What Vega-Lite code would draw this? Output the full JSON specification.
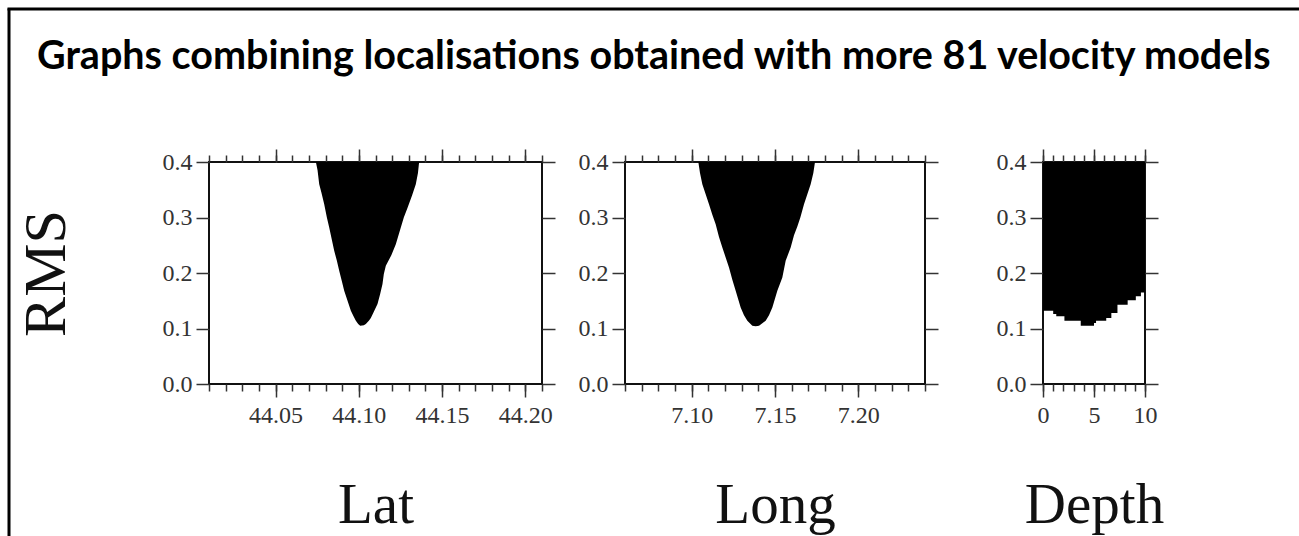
{
  "$schema": "https://vega.github.io/schema/vega-lite/v6.json",
  "autosize": "none",
  "padding": {"left": 9, "top": 9, "right": 1290, "bottom": 527},
  "background": "white",
  "title": {
    "text": "Graphs combining localisations obtained with more 81 velocity models",
    "anchor": "start",
    "frame": "group",
    "dx": 28,
    "offset": 0,
    "dy": 70,
    "font": "Lato",
    "fontSize": 39.5,
    "fontWeight": "bold",
    "color": "black"
  },
  "datasets": {
    "lat": [
      {"lat": 44.0742, "rms": 0.400}, {"lat": 44.0752, "rms": 0.385}, {"lat": 44.0762, "rms": 0.360},
      {"lat": 44.0775, "rms": 0.345}, {"lat": 44.0792, "rms": 0.324}, {"lat": 44.0808, "rms": 0.300},
      {"lat": 44.0822, "rms": 0.282}, {"lat": 44.0852, "rms": 0.240}, {"lat": 44.0868, "rms": 0.222},
      {"lat": 44.0882, "rms": 0.204}, {"lat": 44.0898, "rms": 0.185}, {"lat": 44.0912, "rms": 0.168},
      {"lat": 44.0932, "rms": 0.150}, {"lat": 44.0952, "rms": 0.132}, {"lat": 44.0968, "rms": 0.122},
      {"lat": 44.0982, "rms": 0.114}, {"lat": 44.0996, "rms": 0.108}, {"lat": 44.1008, "rms": 0.105},
      {"lat": 44.1030, "rms": 0.106}, {"lat": 44.1042, "rms": 0.108}, {"lat": 44.1060, "rms": 0.114},
      {"lat": 44.1072, "rms": 0.119}, {"lat": 44.1090, "rms": 0.130}, {"lat": 44.1112, "rms": 0.144},
      {"lat": 44.1128, "rms": 0.162}, {"lat": 44.1142, "rms": 0.180}, {"lat": 44.1150, "rms": 0.198},
      {"lat": 44.1162, "rms": 0.213}, {"lat": 44.1195, "rms": 0.232}, {"lat": 44.1222, "rms": 0.252},
      {"lat": 44.1252, "rms": 0.282}, {"lat": 44.1270, "rms": 0.300}, {"lat": 44.1292, "rms": 0.317},
      {"lat": 44.1320, "rms": 0.340}, {"lat": 44.1342, "rms": 0.360}, {"lat": 44.1355, "rms": 0.380},
      {"lat": 44.1362, "rms": 0.400}
    ],
    "long": [
      {"long": 7.1040, "rms": 0.400}, {"long": 7.1050, "rms": 0.380}, {"long": 7.1064, "rms": 0.360},
      {"long": 7.1084, "rms": 0.342}, {"long": 7.1104, "rms": 0.324}, {"long": 7.1124, "rms": 0.305},
      {"long": 7.1144, "rms": 0.288}, {"long": 7.1164, "rms": 0.265}, {"long": 7.1184, "rms": 0.246},
      {"long": 7.1204, "rms": 0.228}, {"long": 7.1224, "rms": 0.210}, {"long": 7.1244, "rms": 0.188},
      {"long": 7.1264, "rms": 0.168}, {"long": 7.1294, "rms": 0.138}, {"long": 7.1314, "rms": 0.124},
      {"long": 7.1334, "rms": 0.114}, {"long": 7.1364, "rms": 0.105}, {"long": 7.1384, "rms": 0.104},
      {"long": 7.1404, "rms": 0.105}, {"long": 7.1444, "rms": 0.114}, {"long": 7.1464, "rms": 0.124},
      {"long": 7.1484, "rms": 0.138}, {"long": 7.1514, "rms": 0.168}, {"long": 7.1544, "rms": 0.192},
      {"long": 7.1564, "rms": 0.222}, {"long": 7.1594, "rms": 0.246}, {"long": 7.1614, "rms": 0.268},
      {"long": 7.1634, "rms": 0.284}, {"long": 7.1652, "rms": 0.300}, {"long": 7.1674, "rms": 0.324},
      {"long": 7.1694, "rms": 0.342}, {"long": 7.1714, "rms": 0.360}, {"long": 7.1730, "rms": 0.380},
      {"long": 7.1740, "rms": 0.400}
    ],
    "depth": [
      {"depth": 0.0, "rms": 0.132}, {"depth": 1.0, "rms": 0.126}, {"depth": 1.3, "rms": 0.122},
      {"depth": 2.1, "rms": 0.114}, {"depth": 3.7, "rms": 0.105}, {"depth": 5.0, "rms": 0.110},
      {"depth": 5.2, "rms": 0.114}, {"depth": 6.2, "rms": 0.119}, {"depth": 6.7, "rms": 0.128},
      {"depth": 7.3, "rms": 0.143}, {"depth": 8.3, "rms": 0.151}, {"depth": 9.1, "rms": 0.158},
      {"depth": 9.6, "rms": 0.165}, {"depth": 10.0, "rms": 0.172}
    ]
  },
  "bounds": "flush",
  "spacing": 0,
  "vconcat": [
    {
      "width": 1289,
      "height": 0.01,
      "data": {"values": []},
      "mark": {"type": "point", "opacity": 0},
      "encoding": {},
      "view": {"stroke": "black", "strokeWidth": 3, "fill": null}
    },
    {
      "bounds": "flush",
      "spacing": 0,
      "center": true,
      "hconcat": [
        {
          "width": 0.01,
          "height": 526,
          "data": {"values": []},
          "mark": {"type": "point", "opacity": 0},
          "encoding": {},
          "view": {"stroke": "black", "strokeWidth": 3, "fill": null}
        },
        {
          "width": 199,
          "height": 222,
          "data": {"values": []},
          "mark": {"type": "point", "opacity": 0},
          "encoding": {},
          "view": {"stroke": null, "fill": null}
        },
        {
          "width": 333,
          "height": 222,
          "view": {"stroke": "#111", "strokeWidth": 2},
          "data": {"name": "lat"},
          "layer": [
            {
              "mark": {"type": "area", "color": "black"},
              "encoding": {
                "x": {"field": "lat", "type": "quantitative", "scale": {"domain": [44.01, 44.21], "nice": false, "zero": false},
                      "axis": {"orient": "bottom", "values": [44.05, 44.1, 44.15, 44.2], "format": ".2f", "tickSize": 13, "title": "Lat", "titlePadding": 50}},
                "y": {"field": "rms", "type": "quantitative", "scale": {"domain": [0, 0.4], "nice": false},
                      "axis": {"orient": "left", "values": [0, 0.1, 0.2, 0.3, 0.4], "format": ".1f", "tickSize": 13, "labelPadding": 4, "title": "RMS", "titleFontSize": 60, "titlePadding": 85}},
                "y2": {"datum": 0.4}
              }
            },
            {
              "mark": {"type": "area", "opacity": 0},
              "encoding": {
                "x": {"field": "lat", "type": "quantitative",
                      "axis": {"orient": "bottom", "values": [44.01, 44.02, 44.03, 44.04, 44.05, 44.06, 44.07, 44.08, 44.09, 44.1, 44.11, 44.12, 44.13, 44.14, 44.15, 44.16, 44.17, 44.18, 44.19, 44.2, 44.21], "labels": false, "tickSize": 7, "title": null}},
                "y": {"field": "rms", "type": "quantitative",
                      "axis": {"orient": "right", "values": [0, 0.1, 0.2, 0.3, 0.4], "labels": false, "tickSize": 13, "title": null}},
                "y2": {"datum": 0.4}
              }
            },
            {
              "mark": {"type": "area", "opacity": 0},
              "encoding": {
                "x": {"field": "lat", "type": "quantitative",
                      "axis": {"orient": "top", "values": [44.05, 44.1, 44.15, 44.2], "labels": false, "tickSize": 13, "title": null}},
                "y": {"field": "rms", "type": "quantitative", "axis": null},
                "y2": {"datum": 0.4}
              }
            },
            {
              "mark": {"type": "area", "opacity": 0},
              "encoding": {
                "x": {"field": "lat", "type": "quantitative",
                      "axis": {"orient": "top", "values": [44.01, 44.02, 44.03, 44.04, 44.05, 44.06, 44.07, 44.08, 44.09, 44.1, 44.11, 44.12, 44.13, 44.14, 44.15, 44.16, 44.17, 44.18, 44.19, 44.2, 44.21], "labels": false, "tickSize": 7, "title": null}},
                "y": {"field": "rms", "type": "quantitative", "axis": null},
                "y2": {"datum": 0.4}
              }
            }
          ],
          "resolve": {"axis": {"x": "independent", "y": "independent"}}
        },
        {
          "width": 83,
          "height": 222,
          "data": {"values": []},
          "mark": {"type": "point", "opacity": 0},
          "encoding": {},
          "view": {"stroke": null, "fill": null}
        },
        {
          "width": 300,
          "height": 222,
          "view": {"stroke": "#111", "strokeWidth": 2},
          "data": {"name": "long"},
          "layer": [
            {
              "mark": {"type": "area", "color": "black"},
              "encoding": {
                "x": {"field": "long", "type": "quantitative", "scale": {"domain": [7.06, 7.24], "nice": false, "zero": false},
                      "axis": {"orient": "bottom", "values": [7.1, 7.15, 7.2], "format": ".2f", "tickSize": 13, "title": "Long", "titlePadding": 50}},
                "y": {"field": "rms", "type": "quantitative", "scale": {"domain": [0, 0.4], "nice": false},
                      "axis": {"orient": "left", "values": [0, 0.1, 0.2, 0.3, 0.4], "format": ".1f", "tickSize": 13, "labelPadding": 4, "title": null}},
                "y2": {"datum": 0.4}
              }
            },
            {
              "mark": {"type": "area", "opacity": 0},
              "encoding": {
                "x": {"field": "long", "type": "quantitative",
                      "axis": {"orient": "bottom", "values": [7.06, 7.07, 7.08, 7.09, 7.1, 7.11, 7.12, 7.13, 7.14, 7.15, 7.16, 7.17, 7.18, 7.19, 7.2, 7.21, 7.22, 7.23, 7.24], "labels": false, "tickSize": 7, "title": null}},
                "y": {"field": "rms", "type": "quantitative",
                      "axis": {"orient": "right", "values": [0, 0.1, 0.2, 0.3, 0.4], "labels": false, "tickSize": 13, "title": null}},
                "y2": {"datum": 0.4}
              }
            },
            {
              "mark": {"type": "area", "opacity": 0},
              "encoding": {
                "x": {"field": "long", "type": "quantitative",
                      "axis": {"orient": "top", "values": [7.1, 7.15, 7.2], "labels": false, "tickSize": 13, "title": null}},
                "y": {"field": "rms", "type": "quantitative", "axis": null},
                "y2": {"datum": 0.4}
              }
            },
            {
              "mark": {"type": "area", "opacity": 0},
              "encoding": {
                "x": {"field": "long", "type": "quantitative",
                      "axis": {"orient": "top", "values": [7.06, 7.07, 7.08, 7.09, 7.1, 7.11, 7.12, 7.13, 7.14, 7.15, 7.16, 7.17, 7.18, 7.19, 7.2, 7.21, 7.22, 7.23, 7.24], "labels": false, "tickSize": 7, "title": null}},
                "y": {"field": "rms", "type": "quantitative", "axis": null},
                "y2": {"datum": 0.4}
              }
            }
          ],
          "resolve": {"axis": {"x": "independent", "y": "independent"}}
        },
        {
          "width": 118,
          "height": 222,
          "data": {"values": []},
          "mark": {"type": "point", "opacity": 0},
          "encoding": {},
          "view": {"stroke": null, "fill": null}
        },
        {
          "width": 102,
          "height": 222,
          "view": {"stroke": "#111", "strokeWidth": 2},
          "data": {"name": "depth"},
          "layer": [
            {
              "mark": {"type": "area", "color": "black", "interpolate": "step-after"},
              "encoding": {
                "x": {"field": "depth", "type": "quantitative", "scale": {"domain": [0, 10], "nice": false},
                      "axis": {"orient": "bottom", "values": [0, 5, 10], "format": "d", "tickSize": 13, "title": "Depth", "titlePadding": 50}},
                "y": {"field": "rms", "type": "quantitative", "scale": {"domain": [0, 0.4], "nice": false},
                      "axis": {"orient": "left", "values": [0, 0.1, 0.2, 0.3, 0.4], "format": ".1f", "tickSize": 13, "labelPadding": 4, "title": null}},
                "y2": {"datum": 0.4}
              }
            },
            {
              "mark": {"type": "area", "opacity": 0, "interpolate": "step-after"},
              "encoding": {
                "x": {"field": "depth", "type": "quantitative",
                      "axis": {"orient": "bottom", "values": [0, 1, 2, 3, 4, 5, 6, 7, 8, 9, 10], "labels": false, "tickSize": 7, "title": null}},
                "y": {"field": "rms", "type": "quantitative",
                      "axis": {"orient": "right", "values": [0, 0.1, 0.2, 0.3, 0.4], "labels": false, "tickSize": 13, "title": null}},
                "y2": {"datum": 0.4}
              }
            },
            {
              "mark": {"type": "area", "opacity": 0, "interpolate": "step-after"},
              "encoding": {
                "x": {"field": "depth", "type": "quantitative",
                      "axis": {"orient": "top", "values": [0, 5, 10], "labels": false, "tickSize": 13, "title": null}},
                "y": {"field": "rms", "type": "quantitative", "axis": null},
                "y2": {"datum": 0.4}
              }
            },
            {
              "mark": {"type": "area", "opacity": 0, "interpolate": "step-after"},
              "encoding": {
                "x": {"field": "depth", "type": "quantitative",
                      "axis": {"orient": "top", "values": [0, 1, 2, 3, 4, 5, 6, 7, 8, 9, 10], "labels": false, "tickSize": 7, "title": null}},
                "y": {"field": "rms", "type": "quantitative", "axis": null},
                "y2": {"datum": 0.4}
              }
            }
          ],
          "resolve": {"axis": {"x": "independent", "y": "independent"}}
        }
      ]
    }
  ],
  "config": {
    "view": {"stroke": null},
    "axis": {
      "domain": false,
      "grid": false,
      "tickColor": "#333",
      "tickWidth": 1.5,
      "labelFont": "Liberation Serif",
      "labelFontSize": 24,
      "labelColor": "#333",
      "labelPadding": 6,
      "labelFlush": false,
      "labelOverlap": false,
      "labelBound": false,
      "titleFont": "Liberation Serif",
      "titleFontSize": 57,
      "titleFontWeight": "normal",
      "titleColor": "#111"
    }
  }
}
